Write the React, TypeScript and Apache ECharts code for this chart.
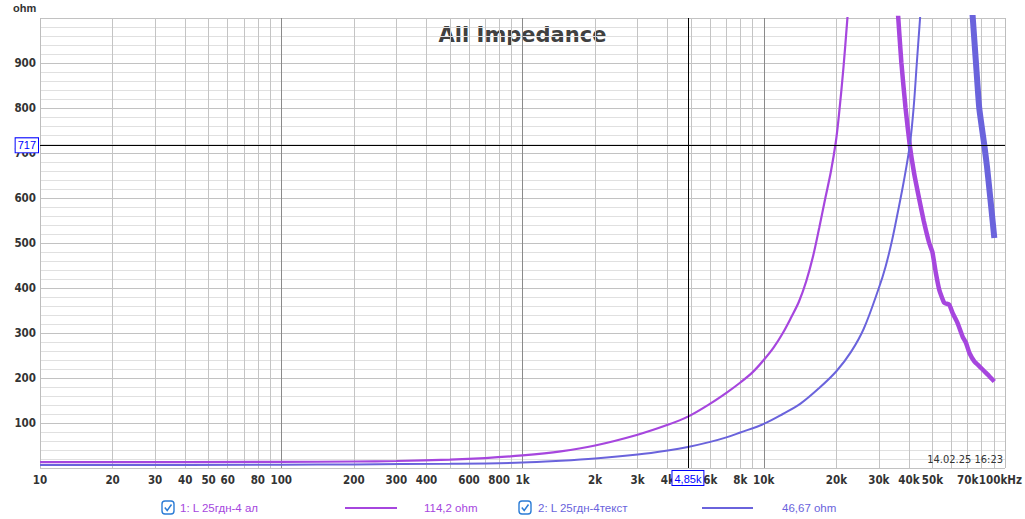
import React, { useEffect, useRef } from "react";
import * as echarts from "echarts";

// ---- data ----
const purpleRiseFreq = [10, 100, 200, 300, 500, 700, 1000, 1440, 2000, 3000, 4000, 4850, 6000, 7000, 8000, 9000, 10000, 11000, 12000, 13000, 14000, 15000, 16000, 17000, 18000, 19000, 19900, 20500, 21400, 22300];
const purpleRiseOhm = [13, 13.5, 14.5, 15.5, 18.5, 22, 28, 37, 50, 74, 96, 114.2, 143, 167, 190, 213, 240, 268, 300, 335, 370, 415, 470, 535, 600, 660, 725, 785, 890, 1010];

const purpleFallFreq = [36000, 37200, 38700, 40300, 42000, 44000, 46000, 48500, 50000, 51700, 53400, 56000, 58700, 60700, 63600, 66700, 68900, 71300, 74600, 78300, 82100, 86100, 90300];
const purpleFallOhm = [1010, 900, 800, 717, 655, 600, 550, 500, 480, 433, 396, 367, 363, 344, 322, 292, 278, 255, 237, 226, 215, 204, 192];

const blueRiseFreq = [10, 100, 200, 500, 1000, 1440, 2000, 3000, 4000, 4850, 6000, 7000, 8000, 10000, 12000, 14200, 17000, 20000, 23000, 26000, 30000, 32000, 34000, 36000, 38000, 40300, 41800, 43100, 44600];
const blueRiseOhm = [6.7, 7.2, 8, 9.5, 12, 16, 21, 30, 39, 46.67, 58, 68, 79, 98, 120, 143, 178, 215, 258, 310, 400, 448, 505, 570, 635, 717, 800, 900, 1010];

const blueFallFreq = [73300, 75800, 78200, 82100, 84200, 86900, 90300];
const blueFallOhm = [1010, 900, 800, 717, 670, 600, 511];

const minorGridFreqs = [20, 30, 40, 50, 60, 70, 80, 90, 200, 300, 400, 500, 600, 700, 800, 900, 2000, 3000, 4000, 5000, 6000, 7000, 8000, 9000, 20000, 30000, 40000, 50000, 60000, 70000, 80000, 90000];
const decadeGridFreqs = [100, 1000, 10000];
const edgeGridFreqs = [10, 100000];

const xLabelFreqs = [10, 20, 30, 40, 50, 60, 80, 100, 200, 300, 400, 600, 800, 1000, 2000, 3000, 4000, 6000, 8000, 10000, 20000, 30000, 40000, 50000, 70000, 100000];
const xLabelTexts = ["10", "20", "30", "40", "50", "60", "80", "100", "200", "300", "400", "600", "800", "1k", "2k", "3k", "4k", "6k", "8k", "10k", "20k", "30k", "40k", "50k", "70k", "100kHz"];

const cursorFreq = 4850;
const cursorFreqText = "4,85k";
const cursorOhm = 717;

const seriesNames = ["1: L 25гдн-4 ал", "2: L 25гдн-4текст"];
const seriesReadouts = ["114,2 ohm", "46,67 ohm"];
const titleText = "All Impedance";
const yUnit = "ohm";
const stampText = "14.02.25 16:23";

const PURPLE = "#a646de";
const BLUE = "#6a63dc";
const AXIS_FONT = "'Liberation Sans Narrow', 'DejaVu Sans Condensed', sans-serif";
const TEXT_FONT = "'Liberation Sans', 'DejaVu Sans', sans-serif";

function pairs(xs: number[], ys: number[]) {
  return xs.map((x, i) => [x, ys[i]]);
}

export default function App() {
  const ref = useRef<HTMLDivElement>(null);
  useEffect(() => {
    if (!ref.current) return;
    const chart = echarts.init(ref.current, undefined, { renderer: "svg" });

    const labelFor = (f: number) => {
      const i = xLabelFreqs.indexOf(f);
      if (i < 0) return { show: false };
      const last = f === 100000;
      return {
        show: true,
        position: "start",
        distance: 6,
        formatter: xLabelTexts[i],
        color: "#333",
        fontSize: 11.5,
        fontWeight: "bold",
        fontFamily: AXIS_FONT,
        align: last ? "right" : "center",
        offset: last ? [17, 0] : [0, 0],
      };
    };

    const gridLines: any[] = [];
    minorGridFreqs.forEach((f) =>
      gridLines.push({ xAxis: f, lineStyle: { color: "#c4c4c4", width: 1, type: "solid" }, label: labelFor(f) })
    );
    decadeGridFreqs.forEach((f) =>
      gridLines.push({ xAxis: f, lineStyle: { color: "#8a8a8a", width: 1, type: "solid" }, label: labelFor(f) })
    );
    edgeGridFreqs.forEach((f) =>
      gridLines.push({ xAxis: f, lineStyle: { color: "#bdbdbd", width: 1, type: "solid" }, label: labelFor(f) })
    );

    const cursorLabel = {
      show: true,
      position: "start",
      color: "#0000ff",
      backgroundColor: "#ffffff",
      borderColor: "#0000ff",
      borderWidth: 1,
      padding: [2, 2, 1, 2],
      fontSize: 11,
      fontFamily: TEXT_FONT,
    };

    const curve = (name: string, xs: number[], ys: number[], color: string, width: number, smooth: number) => ({
      name,
      type: "line",
      data: pairs(xs, ys),
      showSymbol: false,
      symbol: "none",
      clip: true,
      smooth,
      z: 3,
      lineStyle: { color, width },
      silent: true,
    });

    const legendY = 508;
    const checkbox = (x: number) => [
      {
        type: "rect",
        shape: { x, y: legendY - 7, width: 12, height: 13, r: 3 },
        style: { fill: "#fff", stroke: "#2b7cd6", lineWidth: 1.4 },
      },
      {
        type: "polyline",
        shape: { points: [[x + 2.8, legendY - 0.5], [x + 5.2, legendY + 2.5], [x + 9.5, legendY - 3.5]] },
        style: { fill: "none", stroke: "#2b7cd6", lineWidth: 1.5 },
      },
    ];
    const legendText = (x: number, text: string, color: string) => ({
      type: "text",
      x,
      y: legendY,
      style: { text, fill: color, font: `11.5px ${TEXT_FONT}`, textVerticalAlign: "middle", textAlign: "left" },
    });
    const legendLine = (x1: number, x2: number, color: string) => ({
      type: "line",
      shape: { x1, y1: legendY, x2, y2: legendY },
      style: { stroke: color, lineWidth: 2 },
    });

    chart.setOption({
      animation: false,
      backgroundColor: "#ffffff",
      grid: { left: 40, right: 20, top: 18, bottom: 51, containLabel: false },
      xAxis: {
        type: "log",
        logBase: 10,
        min: 10,
        max: 100000,
        axisLabel: { show: false },
        axisLine: { show: false },
        axisTick: { show: false },
        splitLine: { show: false },
      },
      yAxis: {
        type: "value",
        min: 0,
        max: 1000,
        interval: 100,
        axisLine: { show: false },
        axisTick: { show: false },
        axisLabel: {
          margin: 4,
          color: "#333",
          fontSize: 11.5,
          fontWeight: "bold",
          fontFamily: AXIS_FONT,
          formatter: (v: number) => (v === 0 || v === 1000 ? "" : String(v)),
        },
        splitLine: { show: true, lineStyle: { color: "#c2c2c2", width: 1 } },
        minorTick: { show: false, splitNumber: 5 },
        minorSplitLine: { show: true, lineStyle: { color: "#e0e0e0", width: 1 } },
      },
      series: [
        {
          type: "line",
          data: [[10, 0]],
          showSymbol: false,
          symbol: "none",
          lineStyle: { width: 0 },
          silent: true,
          z: 1,
          markLine: { silent: true, z: 1, symbol: ["none", "none"], animation: false, data: gridLines },
        },
        curve(seriesNames[0], purpleRiseFreq, purpleRiseOhm, PURPLE, 2.2, 0.35),
        curve(seriesNames[0], purpleFallFreq, purpleFallOhm, PURPLE, 4.5, 0.15),
        curve(seriesNames[1], blueRiseFreq, blueRiseOhm, BLUE, 2, 0.35),
        curve(seriesNames[1], blueFallFreq, blueFallOhm, BLUE, 6, 0.15),
        {
          type: "line",
          data: [[10, 0]],
          showSymbol: false,
          symbol: "none",
          lineStyle: { width: 0 },
          silent: true,
          z: 5,
          markLine: {
            silent: true,
            z: 6,
            symbol: ["none", "none"],
            animation: false,
            lineStyle: { color: "#000", width: 1, type: "solid" },
            data: [
              { xAxis: cursorFreq, label: { ...cursorLabel, formatter: cursorFreqText, distance: 3 } },
              { yAxis: cursorOhm, label: { ...cursorLabel, formatter: String(cursorOhm), distance: 2 } },
            ],
          },
        },
      ],
      graphic: [
        {
          type: "text",
          x: 522.5,
          y: 35,
          style: { text: titleText, fill: "#404040", font: "bold 21px 'DejaVu Sans', sans-serif", textAlign: "center", textVerticalAlign: "middle" },
        },
        {
          type: "text",
          x: 13,
          y: 8,
          style: { text: yUnit, fill: "#333", font: `bold 11px ${TEXT_FONT}`, textAlign: "left", textVerticalAlign: "middle" },
        },
        {
          type: "text",
          x: 1003,
          y: 459,
          z: 10,
          style: { text: stampText, fill: "#333", font: `11px ${AXIS_FONT}`, textAlign: "right", textVerticalAlign: "middle" },
        },
        ...checkbox(162),
        legendText(180, seriesNames[0], PURPLE),
        legendLine(345, 397, PURPLE),
        legendText(424, seriesReadouts[0], PURPLE),
        ...checkbox(519),
        legendText(538, seriesNames[1], BLUE),
        legendLine(702, 753, BLUE),
        legendText(782, seriesReadouts[1], BLUE),
      ],
    });
    return () => chart.dispose();
  }, []);
  return <div ref={ref} style={{ position: "fixed", left: 0, top: 0, width: 1025, height: 519, background: "#fff" }} />;
}
